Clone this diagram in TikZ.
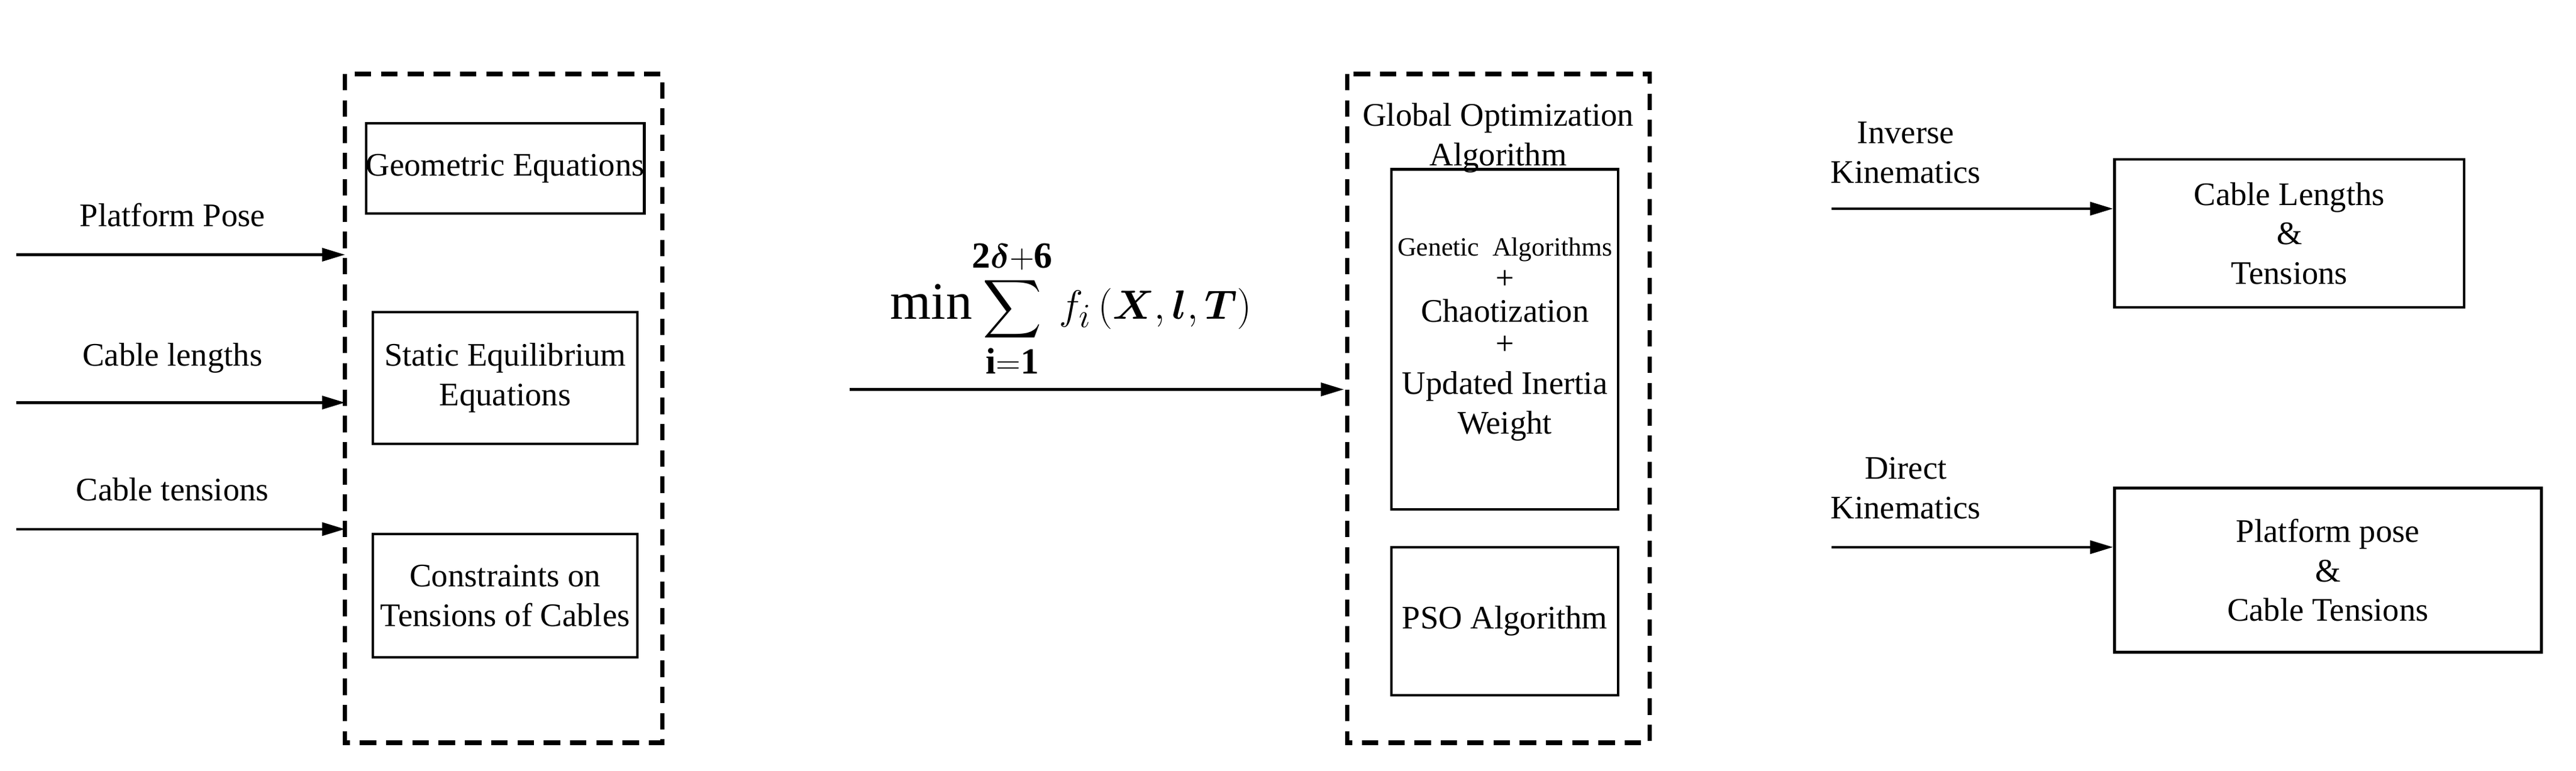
\documentclass[tikz,border=0pt]{standalone}
\usepackage{fontspec}
\setmainfont{Liberation Serif}
\usepackage{amsmath}
\usetikzlibrary{arrows.meta,positioning,fit,calc}
\tikzset{
	block/.style={
		rectangle, draw=black, line width=1.6pt, align=center, inner sep=0pt,
		font=\fontsize{20}{24}\selectfont
	},
	%
	dashbox/.style={
		rectangle, draw=black, line width=2.6pt, dash pattern=on 10pt off 6pt
	},
	%
	flow/.style={
		line width=1.6pt, -{Triangle[length=14pt,width=8pt]}
	},
	%
	lbl/.style={
		font=\fontsize{20}{24}\selectfont, align=center
	}
}
\begin{document}
\begin{tikzpicture}[x=1pt,y=-1pt]
\useasboundingbox (0,0) rectangle (1568,469);
%dashed frames
\draw[dashbox] (210,45) rectangle (403,452);
\draw[dashbox] (820,45) rectangle (1004,452);

%left blocks
\node (GE) [block, minimum width=161pt, minimum height=55pt] at (307.5,102.5) {Geometric Equations};
\node (SE) [block, minimum width=161pt, minimum height=80pt] at (307.5,230) {Static Equilibrium\\Equations};
\node (CT) [block, minimum width=161pt, minimum height=75pt] at (307.5,362.5) {Constraints on\\Tensions of Cables};

%inputs
\coordinate (inA) at (10,155);
\coordinate (inB) at (10,245);
\coordinate (inC) at (10,322);
\coordinate (frA) at (210,155);
\coordinate (frB) at (210,245);
\coordinate (frC) at (210,322);
\draw[flow] (inA) to (frA);
\draw[flow] (inB) to (frB);
\draw[flow] (inC) to (frC);
\node (pp) [lbl] at (105,131) {Platform Pose};
\node (cl) [lbl] at (105,218) {Cable lengths};
\node (ctn) [lbl] at (105,298) {Cable tensions};

%objective
\node (obj) [font=\fontsize{32}{36}\selectfont] at (652,188)
	{$\displaystyle \mathrm{min}\!\sum_{\mathbf{i=1}}^{\mathbf{2}\boldsymbol{\delta}\mathbf{+6}} f_i\left(\boldsymbol{X},\boldsymbol{l},\boldsymbol{T}\right)$};
\coordinate (oL) at (517,237);
\coordinate (oR) at (818,237);
\draw[flow] (oL) to (oR);

%right frame contents
\node (GO) [lbl] at (912,84) {Global Optimization\\Algorithm};
\node (GA) [block, minimum width=138pt, minimum height=207pt] at (916,206.5) {};
\node (GAt) [lbl] at (916,206.5) {{\fontsize{16}{19}\selectfont Genetic\ \ Algorithms}\\[-4pt]+\\[-4pt]Chaotization\\[-4pt]+\\Updated Inertia\\Weight};
\node (PSO) [block, minimum width=138pt, minimum height=90pt] at (916,378) {PSO Algorithm};

%outputs
\node (CL) [block, minimum width=213pt, minimum height=90pt] at (1393.5,142) {Cable Lengths\\\&\\Tensions};
\node (PP) [block, minimum width=260pt, minimum height=100pt] at (1417,347) {Platform pose\\\&\\Cable Tensions};
\coordinate (ikS) at (1115,127);
\coordinate (dkS) at (1115,333);
\draw[flow] (ikS) to (ikS -| CL.west);
\draw[flow] (dkS) to (dkS -| PP.west);
\node (IK) [lbl] at (1160,93) {Inverse\\Kinematics};
\node (DK) [lbl] at (1160,297) {Direct\\Kinematics};
\end{tikzpicture}
\end{document}
